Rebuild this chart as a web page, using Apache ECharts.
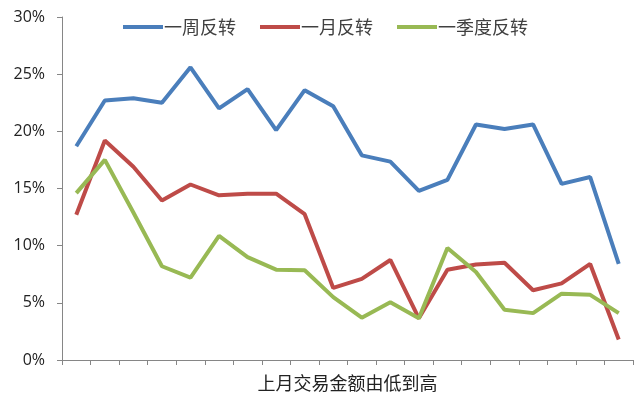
<!DOCTYPE html>
<html><head><meta charset="utf-8">
<script src="https://cdn.jsdelivr.net/npm/echarts@6/dist/echarts.min.js"></script>
<style>html,body{margin:0;padding:0;background:#fff}#c{width:639px;height:399px}</style>
</head><body><div id="c"></div>
<script>
const categories = ['1','2','3','4','5','6','7','8','9','10','11','12','13','14','15','16','17','18','19','20'];
const weekRev = [18.7,22.7,22.9,22.5,25.6,22.0,23.7,20.1,23.6,22.2,17.9,17.35,14.8,15.75,20.6,20.2,20.6,15.4,16.0,8.4];
const monthRev = [12.7,19.2,16.9,13.95,15.35,14.4,14.55,14.55,12.75,6.3,7.1,8.75,3.65,7.9,8.35,8.5,6.1,6.7,8.4,1.8];
const quarterRev = [14.6,17.5,12.9,8.2,7.2,10.85,9.0,7.9,7.85,5.5,3.7,5.05,3.65,9.8,7.7,4.4,4.1,5.8,5.7,4.1];
const seriesNames = ['一周反转','一月反转','一季度反转'];
const yTicks = [0,5,10,15,20,25,30];

const cjk = '"Noto Sans CJK SC", "Noto Sans", sans-serif';
const colors = ['#4A7EBB','#BE4B48','#98B954'];
const chart = echarts.init(document.getElementById('c'));
chart.setOption({
  animation:false,
  color:colors,
  grid:{left:62,right:6,top:17,bottom:39,outerBoundsMode:'none',containLabel:false},
  legend:{
    top:13,left:118,itemGap:24,itemWidth:40,itemHeight:4,icon:'rect',
    textStyle:{fontFamily:cjk,fontSize:18,color:'#404040',padding:[0,0,0,-4]},
    data:seriesNames
  },
  xAxis:{
    type:'category',data:categories,boundaryGap:true,
    axisLine:{lineStyle:{color:'#868686',width:1}},
    axisTick:{show:true,length:5,lineStyle:{color:'#868686'}},
    axisLabel:{show:false},
    name:'上月交易金额由低到高',nameLocation:'middle',nameGap:14,
    nameTextStyle:{fontFamily:cjk,fontSize:18,color:'#222'}
  },
  yAxis:{
    type:'value',min:yTicks[0],max:yTicks[yTicks.length-1],interval:5,
    axisLine:{show:true,lineStyle:{color:'#868686',width:1}},
    axisTick:{show:true,length:5,lineStyle:{color:'#868686'}},
    splitLine:{show:false},
    axisLabel:{formatter:'{value}%',fontFamily:'"Open Sans", sans-serif',fontSize:16,color:'#222',margin:17}
  },
  series:[
    {name:seriesNames[0],type:'line',data:weekRev,symbol:'none',lineStyle:{width:4}},
    {name:seriesNames[1],type:'line',data:monthRev,symbol:'none',lineStyle:{width:4}},
    {name:seriesNames[2],type:'line',data:quarterRev,symbol:'none',lineStyle:{width:4}}
  ]
});
</script></body></html>
